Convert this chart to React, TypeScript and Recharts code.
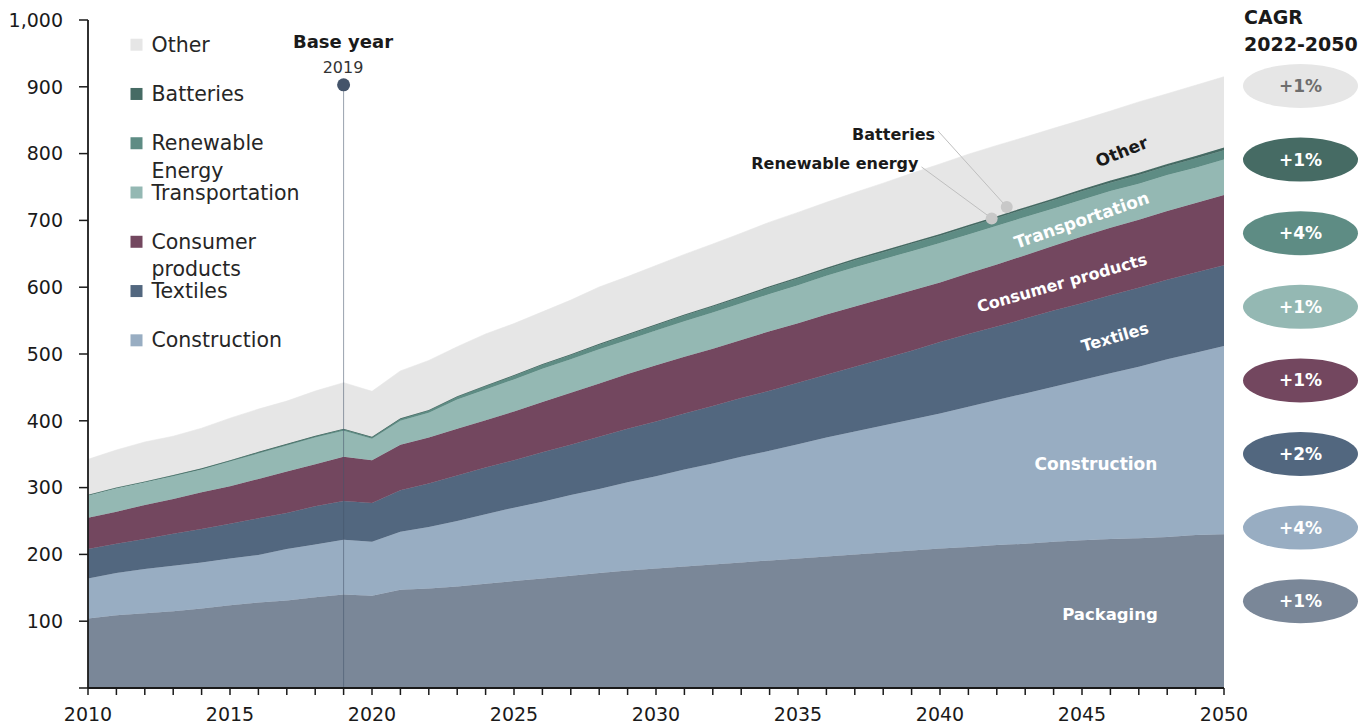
import React from 'react';
import { AreaChart, Area, XAxis, YAxis, ReferenceLine, ReferenceDot } from 'recharts';

const years = [
  2010, 2011, 2012, 2013, 2014, 2015, 2016, 2017, 2018, 2019,
  2020, 2021, 2022, 2023, 2024, 2025, 2026, 2027, 2028, 2029,
  2030, 2031, 2032, 2033, 2034, 2035, 2036, 2037, 2038, 2039,
  2040, 2041, 2042, 2043, 2044, 2045, 2046, 2047, 2048, 2049, 2050,
];

const packaging = [
  104, 109, 112, 115, 119, 124, 128, 131, 136, 140,
  138, 147, 149, 152, 156, 160, 164, 168, 172, 176,
  179, 182, 185, 188, 191, 194, 197, 200, 203, 206,
  209, 211, 214, 216, 219, 221, 223, 224, 226, 229, 230,
];
const construction = [
  60, 63, 66, 68, 69, 70, 71, 77, 79, 82,
  81, 87, 92, 98, 104, 110, 115, 121, 126, 132,
  138, 145, 151, 158, 164, 171, 178, 184, 190, 196,
  202, 210, 217, 225, 232, 240, 248, 257, 266, 273, 282,
];
const textiles = [
  44, 44, 45, 48, 50, 52, 55, 54, 57, 58,
  58, 62, 65, 68, 70, 71, 74, 75, 78, 80,
  82, 84, 86, 88, 90, 92, 94, 97, 100, 103,
  107, 109, 110, 112, 114, 115, 117, 118, 119, 120, 121,
];
const consumerProducts = [
  47, 48, 51, 52, 55, 56, 59, 62, 63, 66,
  64, 68, 69, 70, 71, 73, 75, 78, 80, 82,
  84, 85, 86, 87, 89, 89, 90, 90, 90, 90,
  89, 91, 93, 95, 97, 100, 101, 102, 103, 104, 105,
];
const transportation = [
  33, 35, 34, 34, 34, 37, 38, 39, 40, 39,
  32, 36, 37, 44, 46, 48, 50, 50, 51, 51,
  52, 53, 54, 55, 56, 57, 58, 59, 59, 59,
  59, 58, 58, 57, 56, 55, 55, 54, 54, 53, 53,
];
const renewableEnergy = [
  1, 1, 1, 1.5, 1.5, 1.5, 2, 2, 2, 2.5,
  2.5, 3, 3.5, 4, 5, 5.5, 6, 6.5, 7, 7.5,
  8, 8.5, 9, 9, 9.5, 10, 10, 10.5, 10.5, 11,
  11, 11.5, 11.5, 12, 12, 12.5, 12.5, 13, 13, 13.5, 14,
];
const batteries = [
  0.3, 0.3, 0.3, 0.4, 0.4, 0.4, 0.5, 0.5, 0.5, 0.6,
  0.6, 0.7, 0.8, 0.9, 1, 1, 1.1, 1.2, 1.3, 1.4,
  1.5, 1.6, 1.7, 1.8, 1.9, 2, 2.1, 2.2, 2.3, 2.4,
  2.5, 2.6, 2.7, 2.8, 2.9, 3, 3.2, 3.4, 3.6, 3.8, 4,
];
const other = [
  53, 56, 59, 58, 60, 63, 64, 64, 67, 69,
  68, 71, 74, 74, 77, 77, 78, 81, 85, 86,
  88, 90, 92, 94, 96, 97, 98, 99, 101, 103,
  105, 106, 106, 105, 105, 104, 104, 106, 105, 106, 106,
];

const seriesKeys = ['packaging', 'construction', 'textiles', 'consumer', 'transport', 'renewable', 'batteries', 'other'];
const seriesNames = ['Packaging', 'Construction', 'Textiles', 'Consumer products', 'Transportation', 'Renewable energy', 'Batteries', 'Other'];
const seriesValues = [packaging, construction, textiles, consumerProducts, transportation, renewableEnergy, batteries, other];
const seriesColors = ['#7A8798', '#98ADC2', '#52677F', '#73475F', '#94B8B3', '#5E8C84', '#466B64', '#E6E6E6'];

const yTicks = [0, 100, 200, 300, 400, 500, 600, 700, 800, 900, 1000];

// legend (top to bottom): series index + text lines
const legendSeries = [7, 6, 5, 4, 3, 2, 1];
const legendLines = [['Other'], ['Batteries'], ['Renewable', 'Energy'], ['Transportation'], ['Consumer', 'products'], ['Textiles'], ['Construction']];

// CAGR column (top to bottom): series index + label
const cagrSeries = [7, 6, 5, 4, 3, 2, 1, 0];
const cagrLabels = ['+1%', '+1%', '+4%', '+1%', '+1%', '+2%', '+4%', '+1%'];
const cagrTitle = ['CAGR', '2022-2050'];

const baseYear = 2019;
const baseYearMarker = 903;

const calloutNames = ['Batteries', 'Renewable energy'];
const calloutDots = [{ x: 2042.35, y: 720 }, { x: 2041.82, y: 703 }];
const calloutStarts = [{ x: 2039.93, y: 834 }, { x: 2039.35, y: 780 }];

const data = years.map((year, i) => {
  const row: Record<string, number> = { year };
  seriesKeys.forEach((k, s) => {
    row[k] = seriesValues[s][i];
  });
  return row;
});

const FONT = 'DejaVu Sans';

export default function App() {
  return (
    <div style={{ position: 'absolute', left: 0, top: 0, width: 1363, height: 727, background: '#fff', fontFamily: FONT }}>
      <AreaChart
        width={1363}
        height={727}
        data={data}
        margin={{ top: 20, right: 139, bottom: 0, left: 28 }}
      >
        <XAxis
          dataKey="year"
          type="number"
          domain={[2010, 2050]}
          ticks={years}
          interval={0}
          tickFormatter={(v: number) => (v % 5 === 0 ? String(v) : '')}
          height={39}
          tickSize={7}
          tickMargin={13}
          axisLine={{ stroke: '#1a1a1a', strokeWidth: 1.8 }}
          tickLine={{ stroke: '#1a1a1a', strokeWidth: 1.5 }}
          tick={{ fontSize: 19, fill: '#1a1a1a', fontFamily: FONT }}
        />
        <YAxis
          type="number"
          domain={[0, 1000]}
          ticks={yTicks}
          interval={0}
          width={60}
          tickSize={9}
          tickMargin={16}
          tickFormatter={(v: number) => (v === 0 ? '' : v.toLocaleString('en-US'))}
          axisLine={{ stroke: '#1a1a1a', strokeWidth: 1.8 }}
          tickLine={{ stroke: '#1a1a1a', strokeWidth: 1.5 }}
          tick={{ fontSize: 19, fill: '#1a1a1a', fontFamily: FONT }}
        />
        {seriesKeys.map((k, s) => (
          <Area
            key={k}
            name={seriesNames[s]}
            dataKey={k}
            stackId="1"
            type="linear"
            fill={seriesColors[s]}
            fillOpacity={1}
            stroke={seriesColors[s]}
            strokeWidth={k === 'batteries' ? 1.2 : 0.6}
            dot={false}
            activeDot={false}
            isAnimationActive={false}
          />
        ))}
        <ReferenceLine
          segment={[{ x: baseYear, y: 0 }, { x: baseYear, y: baseYearMarker }]}
          stroke="#44546A"
          strokeOpacity={0.55}
          strokeWidth={1}
        />
        <ReferenceDot x={baseYear} y={baseYearMarker} r={6.5} fill="#44546A" stroke="none" />
        {calloutDots.map((d, i) => (
          <ReferenceLine
            key={'l' + i}
            segment={[calloutStarts[i], d]}
            stroke="#BFBFBF"
            strokeWidth={1}
          />
        ))}
        {calloutDots.map((d, i) => (
          <ReferenceDot key={'d' + i} x={d.x} y={d.y} r={6} fill="#C8C8C8" stroke="none" />
        ))}
      </AreaChart>

      <svg
        width={1363}
        height={727}
        style={{ position: 'absolute', left: 0, top: 0, pointerEvents: 'none' }}
        fontFamily={FONT}
      >
        {/* Legend */}
        {legendSeries.map((s, i) => {
          const base = 51.7 + i * 49.27;
          return (
            <g key={'lg' + i}>
              <rect x={130.5} y={base - 13} width={12} height={12} fill={seriesColors[s]} />
              {legendLines[i].map((line, j) => (
                <text key={j} x={151.5} y={base + j * 27.5} fontSize={20.5} fill="#262626">
                  {line}
                </text>
              ))}
            </g>
          );
        })}

        {/* Base year */}
        <text x={343} y={48} textAnchor="middle" fontSize={18} fontWeight="bold" fill="#1a1a1a">Base year</text>
        <text x={343} y={72.5} textAnchor="middle" fontSize={16} fill="#333">{baseYear}</text>

        {/* Callout labels */}
        <text x={935} y={140} textAnchor="end" fontSize={16} fontWeight="bold" fill="#1a1a1a">{calloutNames[0]}</text>
        <text x={918.5} y={169.3} textAnchor="end" fontSize={16} fontWeight="bold" fill="#1a1a1a">{calloutNames[1]}</text>

        {/* In-area labels */}
        <text x={1121.7} y={151.7} textAnchor="middle" dominantBaseline="central" fontSize={17} fontWeight="bold" fill="#1a1a1a" transform="rotate(-22 1121.7 151.7)">{seriesNames[7]}</text>
        <text x={1081.7} y={220} textAnchor="middle" dominantBaseline="central" fontSize={17} fontWeight="bold" fill="#fff" transform="rotate(-19 1081.7 220)">{seriesNames[4]}</text>
        <text x={1062} y={283} textAnchor="middle" dominantBaseline="central" fontSize={16} fontWeight="bold" fill="#fff" transform="rotate(-16 1062 283)">{seriesNames[3]}</text>
        <text x={1115} y={337} textAnchor="middle" dominantBaseline="central" fontSize={16} fontWeight="bold" fill="#fff" transform="rotate(-16 1115 337)">{seriesNames[2]}</text>
        <text x={1096} y={464} textAnchor="middle" dominantBaseline="central" fontSize={17} fontWeight="bold" fill="#fff">{seriesNames[1]}</text>
        <text x={1110} y={614} textAnchor="middle" dominantBaseline="central" fontSize={16.5} fontWeight="bold" fill="#fff">{seriesNames[0]}</text>

        {/* CAGR column */}
        <text x={1244} y={24} fontSize={19} fontWeight="bold" fill="#1a1a1a">{cagrTitle[0]}</text>
        <text x={1244} y={51} fontSize={19} fontWeight="bold" fill="#1a1a1a">{cagrTitle[1]}</text>
        {cagrSeries.map((s, i) => {
          const cy = 86 + i * 73.6;
          return (
            <g key={'cg' + i}>
              <ellipse cx={1300.5} cy={cy} rx={57.5} ry={22} fill={seriesColors[s]} />
              <text
                x={1300.5}
                y={cy}
                textAnchor="middle"
                dominantBaseline="central"
                fontSize={17}
                fontWeight="bold"
                fill={s === 7 ? '#6E6E6E' : '#fff'}
              >
                {cagrLabels[i]}
              </text>
            </g>
          );
        })}
      </svg>
    </div>
  );
}
